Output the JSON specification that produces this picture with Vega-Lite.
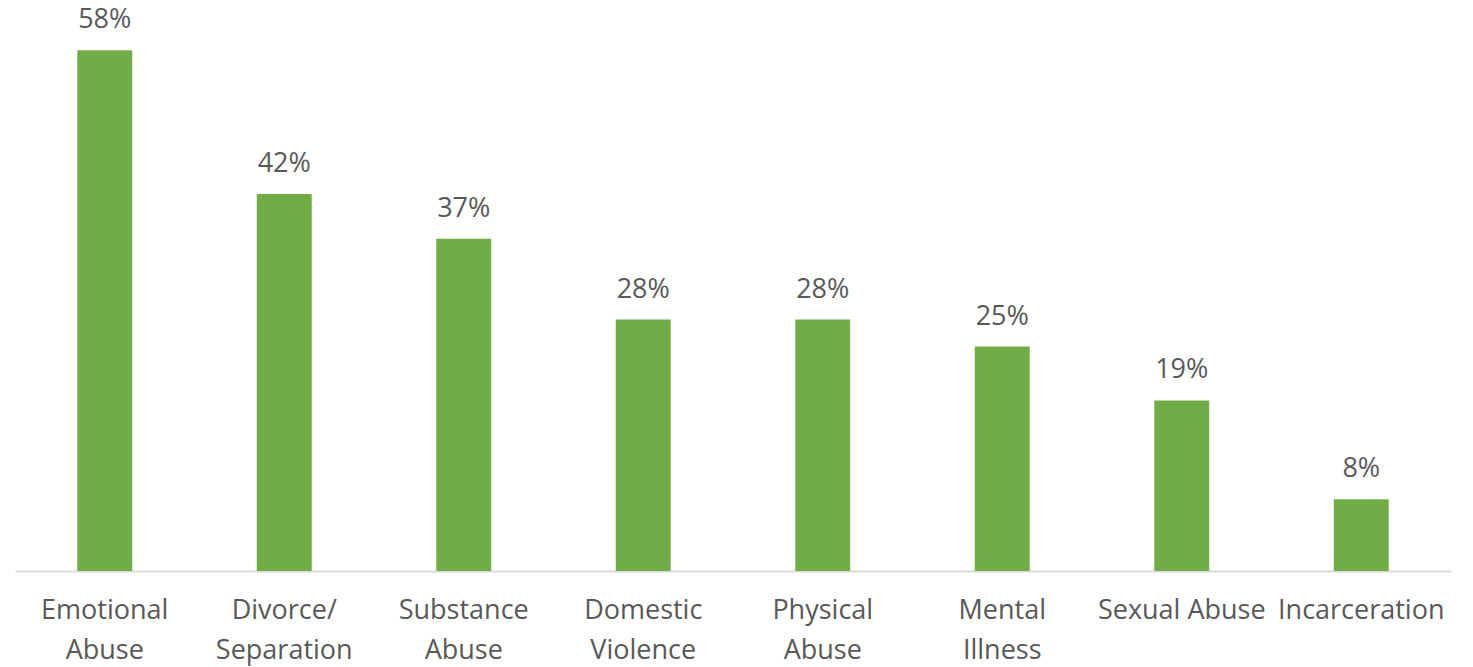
{
  "$schema": "https://vega.github.io/schema/vega-lite/v6.json",
  "width": 1436,
  "height": 571,
  "autosize": {"type": "none"},
  "padding": {"left": 15, "top": 0, "right": 22, "bottom": 96},
  "background": "white",
  "config": {"view": {"stroke": null}, "font": "Open Sans"},
  "data": {
    "values": [
      {"category": "Emotional Abuse", "value": 0.58},
      {"category": "Divorce/ Separation", "value": 0.42},
      {"category": "Substance Abuse", "value": 0.37},
      {"category": "Domestic Violence", "value": 0.28},
      {"category": "Physical Abuse", "value": 0.28},
      {"category": "Mental Illness", "value": 0.25},
      {"category": "Sexual Abuse", "value": 0.19},
      {"category": "Incarceration", "value": 0.08}
    ]
  },
  "encoding": {
    "x": {
      "field": "category",
      "type": "nominal",
      "sort": null,
      "scale": {"paddingInner": 0.694, "paddingOuter": 0.347},
      "axis": {
        "title": null,
        "ticks": false,
        "domainColor": "#d9d9d9",
        "domainWidth": 2,
        "labelAngle": 0,
        "labelFont": "Open Sans",
        "labelFontSize": 27,
        "labelColor": "#595959",
        "labelBaseline": "alphabetic",
        "labelPadding": 47,
        "labelLineHeight": 40,
        "labelLimit": 0,
        "labelOverlap": false,
        "labelExpr": "datum.value == 'Sexual Abuse' ? datum.value : split(datum.value, ' ')"
      }
    },
    "y": {
      "field": "value",
      "type": "quantitative",
      "scale": {"domain": [0, 0.636], "nice": false},
      "axis": null
    }
  },
  "layer": [
    {"mark": {"type": "bar", "color": "#70ad47"}},
    {
      "mark": {"type": "text", "baseline": "alphabetic", "dy": -22, "font": "Open Sans", "fontSize": 27, "color": "#595959"},
      "encoding": {"text": {"field": "value", "type": "quantitative", "format": ".0%"}}
    }
  ]
}
